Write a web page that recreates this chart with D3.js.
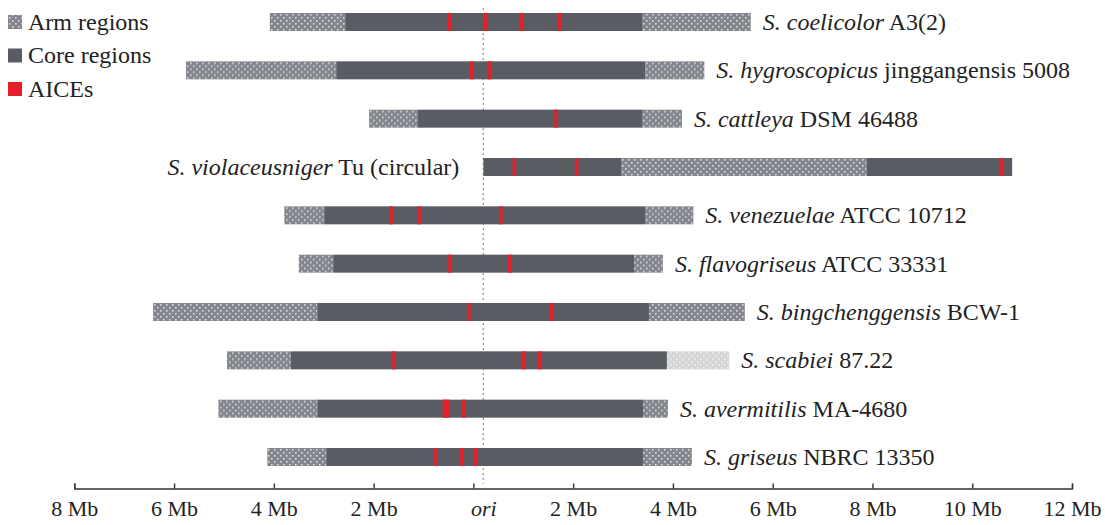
<!DOCTYPE html>
<html>
<head>
<meta charset="utf-8">
<script src="https://cdn.jsdelivr.net/npm/d3@7"></script>
<style>
  body { margin: 0; background: #fff; }
  text { font-family: "Liberation Serif", "DejaVu Serif", serif; fill: #222; }
</style>
</head>
<body>
<svg width="1105" height="525"></svg>
<script>
var svg = d3.select("svg");

// species (italic part) and strain (roman part)
var species = ["S. coelicolor", "S. hygroscopicus", "S. cattleya", "S. violaceusniger",
  "S. venezuelae", "S. flavogriseus", "S. bingchenggensis", "S. scabiei",
  "S. avermitilis", "S. griseus"];
var strains = ["A3(2)", "jinggangensis 5008", "DSM 46488", "Tu (circular)",
  "ATCC 10712", "ATCC 33331", "BCW-1", "87.22", "MA-4680", "NBRC 13350"];

// segments per genome, in Mb relative to ori: [type, start, end]
var segments = [
  [["arm", -4.08, -2.57], ["core", -2.57, 3.38], ["arm", 3.38, 5.56]],
  [["arm", -5.76, -2.75], ["core", -2.75, 3.45], ["arm", 3.45, 4.63]],
  [["arm", -2.09, -1.11], ["core", -1.11, 3.38], ["arm", 3.38, 4.18]],
  [["core", 0.2, 2.96], ["arm", 2.96, 7.88], ["core", 7.88, 10.8]],
  [["arm", -3.79, -2.99], ["core", -2.99, 3.44], ["arm", 3.44, 4.41]],
  [["arm", -3.5, -2.81], ["core", -2.81, 3.22], ["arm", 3.22, 3.8]],
  [["arm", -6.42, -3.13], ["core", -3.13, 3.52], ["arm", 3.52, 5.44]],
  [["arm", -4.94, -3.66], ["core", -3.66, 3.88], ["armLight", 3.88, 5.13]],
  [["arm", -5.11, -3.13], ["core", -3.13, 3.4], ["arm", 3.4, 3.9]],
  [["arm", -4.13, -2.95], ["core", -2.95, 3.4], ["arm", 3.4, 4.38]]
];

// AICE positions (Mb)
var aices = [
  [-0.48, 0.24, 0.96, 1.72],
  [-0.03, 0.32],
  [1.66],
  [0.82, 2.07, 10.59],
  [-1.65, -1.09, 0.55],
  [-0.47, 0.73],
  [-0.09, 1.56],
  [-1.59, 1.01, 1.33],
  [-0.58, -0.52, -0.19],
  [-0.75, -0.23, 0.05]
];

var tickValues = [-8, -6, -4, -2, 0, 2, 4, 6, 8, 10, 12];
var oriLine = 0.2;

var x = d3.scaleLinear().domain([-8, 12]).range([74.3, 1072]);
var y = d3.scalePoint().domain(d3.range(species.length)).range([22, 457]);
var barH = 18;

var colors = { core: "#595d63", aice: "#e3202a" };

// dotted patterns for arm regions
var defs = svg.append("defs");
function dotPattern(id, bg, dot) {
  var p = defs.append("pattern").attr("id", id)
    .attr("patternUnits", "userSpaceOnUse").attr("width", 6).attr("height", 6);
  p.append("rect").attr("width", 6).attr("height", 6).attr("fill", bg);
  p.append("rect").attr("x", 1).attr("y", 1).attr("width", 1.6).attr("height", 1.6).attr("fill", dot);
  p.append("rect").attr("x", 4).attr("y", 4).attr("width", 1.6).attr("height", 1.6).attr("fill", dot);
}
dotPattern("armPat", "#83868c", "#d8dadc");
dotPattern("armLightPat", "#d3d5d7", "#f2f3f4");

var fillFor = function (t) {
  if (t === "core") return colors.core;
  if (t === "armLight") return "url(#armLightPat)";
  return "url(#armPat)";
};

// ori dotted line
svg.append("line")
  .attr("x1", x(oriLine)).attr("x2", x(oriLine))
  .attr("y1", 8).attr("y2", 484)
  .attr("stroke", "#9a9a9a").attr("stroke-width", 1.3)
  .attr("stroke-dasharray", "2,3");

var rows = svg.selectAll(".row")
  .data(species)
.enter().append("g")
  .attr("class", "row")
  .attr("transform", function (d, i) { return "translate(0," + y(i) + ")"; });

rows.selectAll(".seg")
  .data(function (d, i) { return segments[i]; })
.enter().append("rect")
  .attr("class", "seg")
  .attr("x", function (d) { return x(d[1]); })
  .attr("width", function (d) { return x(d[2]) - x(d[1]); })
  .attr("y", -barH / 2)
  .attr("height", barH)
  .attr("fill", function (d) { return fillFor(d[0]); });

rows.selectAll(".aice")
  .data(function (d, i) { return aices[i]; })
.enter().append("rect")
  .attr("class", "aice")
  .attr("x", function (d) { return x(d) - 1.8; })
  .attr("width", 3.6)
  .attr("y", -barH / 2)
  .attr("height", barH)
  .attr("fill", colors.aice);

// labels
rows.each(function (d, i) {
  var segs = segments[i];
  var g = d3.select(this);
  var t = g.append("text").attr("dy", "0.33em").style("font-size", "24px");
  if (i === 3) {
    t.attr("x", x(segs[0][1]) - 24).attr("text-anchor", "end");
  } else {
    t.attr("x", x(segs[segs.length - 1][2]) + 12);
  }
  t.append("tspan").style("font-style", "italic").text(d);
  t.append("tspan").text(" " + strains[i]);
});

// axis
var axis = d3.axisBottom(x)
  .tickValues(tickValues)
  .tickSizeInner(-5)
  .tickSizeOuter(-5)
  .tickPadding(18)
  .tickFormat(function (d) { return d === 0 ? "ori" : Math.abs(d) + " Mb"; });

var ax = svg.append("g")
  .attr("transform", "translate(0,488.5)")
  .call(axis);
ax.select(".domain").attr("stroke", "#333").attr("stroke-width", 1.4);
ax.selectAll(".tick line").attr("stroke", "#333").attr("stroke-width", 1.4);
ax.selectAll(".tick text")
  .style("font-family", "'Liberation Serif', serif")
  .style("font-size", "22px")
  .attr("fill", "#222")
  .attr("y", 20)
  .attr("dy", "0.35em")
  .style("font-style", function (d) { return d === 0 ? "italic" : "normal"; })
  .attr("dx", function (d) { return d === 0 ? 10 : 0; });

// legend
var legendItems = ["Arm regions", "Core regions", "AICEs"];
var legendFills = ["url(#armPat)", colors.core, colors.aice];
var lg = svg.selectAll(".legend")
  .data(legendItems)
.enter().append("g")
  .attr("class", "legend")
  .attr("transform", function (d, i) { return "translate(8," + (22 + i * 33.5) + ")"; });
lg.append("rect")
  .attr("x", 0).attr("y", -7).attr("width", 14).attr("height", 14)
  .attr("fill", function (d, i) { return legendFills[i]; });
lg.append("text")
  .attr("x", 20).attr("dy", "0.33em")
  .style("font-size", "24px")
  .text(function (d) { return d; });
</script>
</body>
</html>
